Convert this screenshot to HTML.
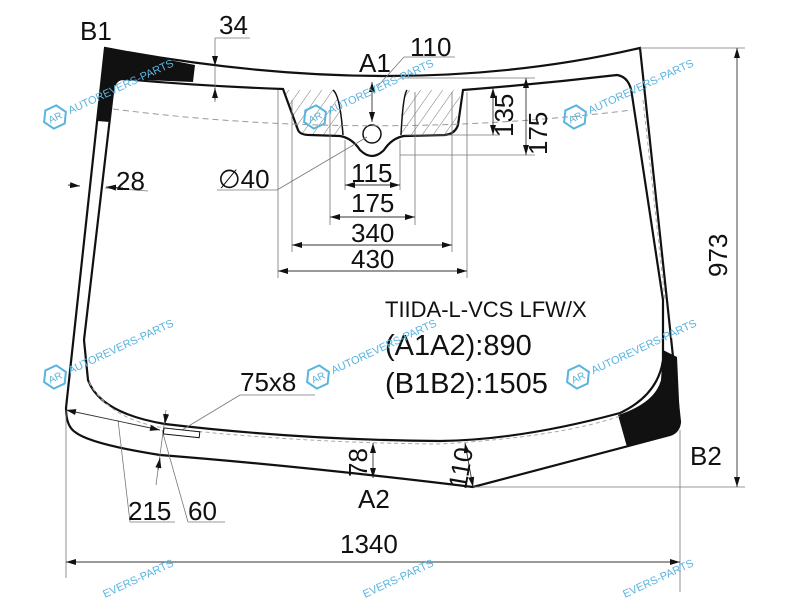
<!DOCTYPE html>
<html><head><meta charset="utf-8"><style>
html,body{margin:0;padding:0;background:#fff;overflow:hidden;width:800px;height:600px;}
svg{display:block;font-family:"Liberation Sans",Arial,sans-serif;}
</style></head><body>
<svg width="800" height="600" viewBox="0 0 800 600" xmlns="http://www.w3.org/2000/svg" style="overflow:hidden">
<defs>
<pattern id="h" width="9" height="9" patternUnits="userSpaceOnUse" patternTransform="rotate(35)">
<line x1="0" y1="0" x2="0" y2="9" stroke="#555" stroke-width="0.8"/>
</pattern>
<marker id="a" viewBox="0 0 10 6" refX="10" refY="3" markerWidth="10" markerHeight="6" orient="auto-start-reverse" markerUnits="userSpaceOnUse">
<path d="M0,0 L10,3 L0,6 Z" fill="#111"/>
</marker>
<g id="wm">
<polygon points="-12,0 -6,-10 6,-10 12,0 6,10 -6,10" fill="none" stroke="#5ab4e0" stroke-width="2" transform="rotate(-25)"/>
<text x="-7" y="4" font-size="10" fill="#5ab4e0" transform="rotate(-25)">AR</text>
<text x="15" y="4" font-size="11" fill="#5ab4e0" transform="rotate(-25)">AUTOREVERS-PARTS</text>
</g>
<g id="wm2">
<text x="0" y="0" font-size="11" fill="#5ab4e0" transform="rotate(-25)">EVERS-PARTS</text>
</g>
</defs>

<path d="M285,90 L333,90 Q340,95 343,135 L304,135 Q296,133 293,120 Z" fill="url(#h)"/>
<path d="M407,90 L461,90 L456,125 Q452,135 445,135 L401,135 Q403,95 407,90 Z" fill="url(#h)"/>

<path d="M105,48 Q150,56 195,65 L193,82 L122,79 Q114,80 113,92 L110,122 L97,121 Z" fill="#111"/>
<path d="M618,415 Q655,403 661,380 L663,350 L677,357 L680,422 Q678,432 668,435 L627,447 Z" fill="#111"/>

<path d="M105,48 Q400,104 640,48 L680,422 Q679,432 670,435 L473,487 Q300,466 160,455 Q90,444 75,432 Q66,426 66,408 Z" fill="none" stroke="#111" stroke-width="2.2"/>

<path d="M122,79 Q200,86 283,89 L298,130 Q300,135 310,135 L340,136 Q352,138 360,150 Q372,162 384,150 Q392,138 404,136 L445,135 Q455,134 458,125 L463,90 Q540,84 617,75 Q630,77 632,95 L663,300 L663,360 Q658,395 620,413 Q520,440 440,441 Q300,440 165,424 Q100,413 88,380 L84,340 L113,92 Q114,80 122,79 Z" fill="none" stroke="#111" stroke-width="2.2"/>
<path d="M333,90 Q340,95 343,135" fill="none" stroke="#111" stroke-width="1.5"/>
<path d="M407,90 Q403,95 401,135" fill="none" stroke="#111" stroke-width="1.5"/>
<circle cx="372" cy="134" r="9" fill="#fff" stroke="#111" stroke-width="1.5"/>

<path d="M113,109 Q372,142 632,110" fill="none" stroke="#999" stroke-width="1" stroke-dasharray="6,4"/>
<path d="M89,382 Q110,420 165,428 Q300,443 440,444 Q560,437 620,416" fill="none" stroke="#aaa" stroke-width="1" stroke-dasharray="4,3"/>
<path d="M643,100 L665,300" fill="none" stroke="#aaa" stroke-width="1" stroke-dasharray="4,3"/>

<g stroke="#777" stroke-width="0.8" fill="none">
<line x1="215" y1="38" x2="215" y2="102"/><line x1="215" y1="38" x2="250" y2="38"/>
<line x1="378" y1="86" x2="404" y2="57"/><line x1="404" y1="57" x2="455" y2="57"/>
<line x1="400" y1="78" x2="535" y2="78"/><line x1="405" y1="135" x2="500" y2="135"/><line x1="400" y1="155" x2="535" y2="155"/>
<line x1="278" y1="90" x2="278" y2="278"/><line x1="292" y1="100" x2="292" y2="252"/><line x1="330" y1="110" x2="330" y2="225"/><line x1="345" y1="140" x2="345" y2="190"/>
<line x1="400" y1="140" x2="400" y2="190"/><line x1="415" y1="92" x2="415" y2="225"/><line x1="452" y1="92" x2="452" y2="252"/><line x1="467" y1="92" x2="467" y2="278"/>
<line x1="217" y1="190" x2="277" y2="190"/><line x1="277" y1="190" x2="367" y2="137"/>
<line x1="105" y1="188" x2="148" y2="191"/>
<line x1="640" y1="48" x2="745" y2="48"/><line x1="473" y1="487" x2="745" y2="487"/>
<line x1="66" y1="410" x2="66" y2="578"/><line x1="680" y1="430" x2="680" y2="592"/>
<line x1="240" y1="395" x2="315" y2="395"/><line x1="240" y1="395" x2="182" y2="430"/>
<line x1="118" y1="420" x2="130" y2="522"/><line x1="130" y1="522" x2="175" y2="522"/>
<line x1="162" y1="430" x2="188" y2="522"/><line x1="188" y1="522" x2="225" y2="522"/>
<line x1="166" y1="410" x2="156" y2="485"/>
</g>

<g stroke="#333" stroke-width="0.9" fill="none">
<line x1="215" y1="58" x2="215" y2="66" marker-end="url(#a)"/>
<line x1="215" y1="100" x2="215" y2="88" marker-end="url(#a)"/>
<line x1="372" y1="82" x2="372" y2="122" marker-start="url(#a)" marker-end="url(#a)"/>
<line x1="493" y1="88" x2="493" y2="135" marker-start="url(#a)" marker-end="url(#a)"/>
<line x1="526" y1="78" x2="526" y2="155" marker-start="url(#a)" marker-end="url(#a)"/>
<line x1="68" y1="185" x2="80" y2="186" marker-end="url(#a)"/>
<line x1="123" y1="188" x2="106" y2="187" marker-end="url(#a)"/>
<line x1="345" y1="185" x2="400" y2="185" marker-start="url(#a)" marker-end="url(#a)"/>
<line x1="330" y1="217" x2="415" y2="217" marker-start="url(#a)" marker-end="url(#a)"/>
<line x1="292" y1="245" x2="452" y2="245" marker-start="url(#a)" marker-end="url(#a)"/>
<line x1="278" y1="271" x2="467" y2="271" marker-start="url(#a)" marker-end="url(#a)"/>
<line x1="737" y1="48" x2="737" y2="487" marker-start="url(#a)" marker-end="url(#a)"/>
<line x1="66" y1="562" x2="680" y2="562" marker-start="url(#a)" marker-end="url(#a)"/>
<line x1="373" y1="443" x2="373" y2="478" marker-start="url(#a)" marker-end="url(#a)"/>
<line x1="465" y1="443" x2="473" y2="487" marker-start="url(#a)" marker-end="url(#a)"/>
<line x1="66" y1="410" x2="160" y2="430" marker-start="url(#a)" marker-end="url(#a)"/>
<line x1="166" y1="415" x2="165" y2="424" marker-end="url(#a)"/>
<line x1="158" y1="470" x2="160" y2="458" marker-end="url(#a)"/>
</g>

<rect x="164" y="428" width="36" height="6" fill="#fff" stroke="#111" stroke-width="1" transform="rotate(6 164 428)"/>

<g fill="#111" font-size="26">
<text x="80" y="40">B1</text>
<text x="219" y="34">34</text>
<text x="410" y="56">110</text>
<text x="359" y="72">A1</text>
<text x="218" y="188">∅40</text>
<text x="116" y="190">28</text>
<text x="351" y="182">115</text>
<text x="351" y="212">175</text>
<text x="351" y="242">340</text>
<text x="351" y="268">430</text>
<text transform="translate(513,137) rotate(-90)">135</text>
<text transform="translate(547,155) rotate(-90)">175</text>
<text transform="translate(727,277) rotate(-90)">973</text>
<text x="240" y="391">75x8</text>
<text transform="translate(367,477) rotate(-90)">78</text>
<text transform="translate(466,490) rotate(-80)">110</text>
<text x="358" y="508">A2</text>
<text x="690" y="465">B2</text>
<text x="128" y="520">215</text>
<text x="188" y="520">60</text>
<text x="340" y="553">1340</text>
<text x="385" y="355" font-size="29">(A1A2):890</text>
<text x="385" y="393" font-size="29">(B1B2):1505</text>
<text x="385" y="317" font-size="22">TIIDA-L-VCS LFW/X</text>
</g>

<use href="#wm" x="55" y="117"/>
<use href="#wm" x="315" y="117"/>
<use href="#wm" x="575" y="117"/>
<use href="#wm" x="55" y="377"/>
<use href="#wm" x="318" y="377"/>
<use href="#wm" x="578" y="377"/>
<use href="#wm2" x="105" y="598"/>
<use href="#wm2" x="365" y="598"/>
<use href="#wm2" x="625" y="598"/>
</svg>
</body></html>
